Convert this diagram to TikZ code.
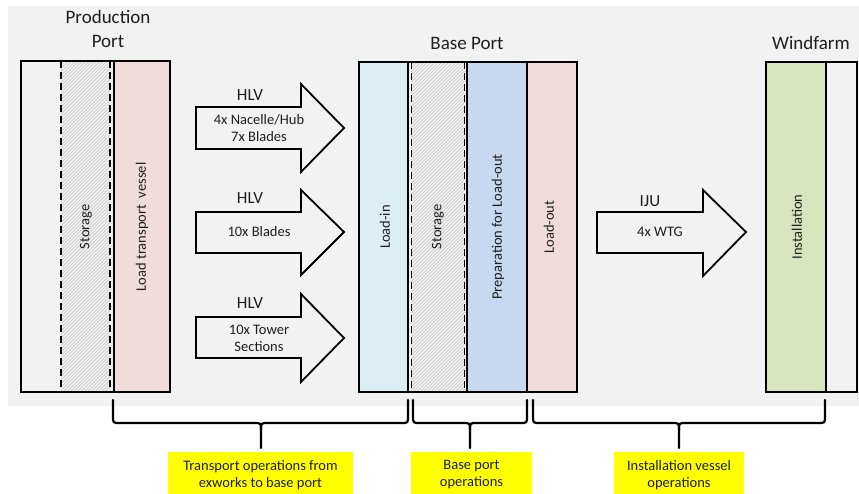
\documentclass[tikz,border=0pt]{standalone}
\usepackage{fontspec}
\setmainfont{Carlito}
\definecolor{bg}{HTML}{F2F2F2}
\definecolor{pinkc}{HTML}{F2DCDB}
\definecolor{lblue}{HTML}{DAEEF3}
\definecolor{mblue}{HTML}{C6D9F1}
\definecolor{greenc}{HTML}{D7E4BD}
\definecolor{yel}{HTML}{FFFF00}
\definecolor{txt}{HTML}{1E1E1E}
\definecolor{hatchc}{HTML}{BFBFBF}
\begin{document}
\begin{tikzpicture}[x=1pt,y=-1pt,
  box/.style={draw=black, line width=1.8pt},
  dashln/.style={draw=black, line width=1.8pt, dash pattern=on 7pt off 4pt},
  arr/.style={draw=black, line width=1.8pt, line join=miter},
  brace/.style={draw=black, line width=2.2pt, line cap=round},
  head/.style={text=txt, font=\fontsize{19}{22}\selectfont, inner sep=0pt},
  vessel/.style={text=txt, font=\fontsize{17}{20}\selectfont, inner sep=0pt},
  cargo/.style={text=txt, font=\fontsize{14.5}{17}\selectfont, align=center, inner sep=0pt},
  vlab/.style={text=txt, font=\fontsize{14.5}{17}\selectfont, rotate=90, inner sep=0pt},
  ybox/.style={fill=yel, text=txt, font=\fontsize{14.5}{17}\selectfont, align=center, inner sep=0pt}
]
\useasboundingbox (0,0) rectangle (859,494);
\fill[bg] (8,6) rectangle (859,406);

% ---------- Production port ----------
\fill[pinkc] (114,61) rectangle (170,392);
\begin{scope}
  \clip (61,61) rectangle (110,392);
  \foreach \x in {-280,-276.5,...,112} \draw[hatchc, line width=0.6pt] (\x,392) -- (\x+331,61);
\end{scope}
\draw[box] (21,61) rectangle (170,392);
\draw[box] (114,61) -- (114,392);
\draw[dashln] (61,61) -- (61,392);
\draw[dashln] (110,61) -- (110,392);
\node[head] (pp1) at (108,17) {Production};
\node[head] (pp2) at (108,41) {Port};
\node[vlab] (st1) at (86,227) {Storage};
\node[vlab] (ltv) at (142,227) {Load transport\ \ vessel};

% ---------- Base port ----------
\fill[lblue] (359,62) rectangle (408,392);
\fill[mblue] (467,62) rectangle (527,392);
\fill[pinkc] (527,62) rectangle (577,392);
\begin{scope}
  \clip (411,62) rectangle (465,392);
  \foreach \x in {70,73.5,...,470} \draw[hatchc, line width=0.6pt] (\x,392) -- (\x+330,62);
\end{scope}
\draw[box] (359,62) rectangle (577,392);
\draw[box] (408,62) -- (408,392);
\draw[box] (467,62) -- (467,392);
\draw[box] (527,62) -- (527,392);
\draw[dashln] (411.5,62) -- (411.5,392);
\draw[dashln] (464.5,62) -- (464.5,392);
\node[head] (bp) at (467,43) {Base Port};
\node[vlab] (li) at (385,227) {Load-in};
\node[vlab] (st2) at (438,227) {Storage};
\node[vlab] (prep) at (498,227) {Preparation for Load-out};
\node[vlab] (lo) at (549,227) {Load-out};

% ---------- Windfarm ----------
\fill[greenc] (766,62) rectangle (826,392);
\draw[box] (766,62) rectangle (857,392);
\draw[box] (826,62) -- (826,392);
\node[head] (wf) at (811,43) {Windfarm};
\node[vlab] (inst) at (797,227) {Installation};

% ---------- Arrows ----------
\draw[arr] (196,107) -- (301,107) -- (301,84) -- (344,128) -- (301,172) -- (301,149) -- (196,149) -- cycle;
\draw[arr] (196,212) -- (301,212) -- (301,190) -- (344,232) -- (301,275) -- (301,253) -- (196,253) -- cycle;
\draw[arr] (196,317) -- (301,317) -- (301,294) -- (344,338) -- (301,382) -- (301,358) -- (196,358) -- cycle;
\draw[arr] (597,212) -- (703,212) -- (703,190) -- (746,232) -- (703,276) -- (703,253) -- (597,253) -- cycle;

\node[vessel] (h1) at (250,95) {HLV};
\node[vessel] (h2) at (250,198) {HLV};
\node[vessel] (h3) at (250,303) {HLV};
\node[vessel] (iju) at (650,201) {IJU};
\node[cargo] (c1) at (259,128.5) {4x Nacelle/Hub\\7x Blades};
\node[cargo] (c2) at (259,232) {10x Blades};
\node[cargo] (c3) at (259,338) {10x Tower\\Sections};
\node[cargo] (c4) at (660,232) {4x WTG};

% ---------- Braces ----------
\newcommand\mybrace[3]{%
  \draw[brace] (#1,400) -- (#1,416) .. controls (#1,423) .. (#1+7,423) -- (#3-7,423)
    .. controls (#3,423) .. (#3,430) -- (#3,448);
  \draw[brace] (#3,430) .. controls (#3,423) .. (#3+7,423) -- (#2-7,423)
    .. controls (#2,423) .. (#2,416) -- (#2,400);}
\mybrace{113}{408}{261}
\mybrace{413}{527}{470}
\mybrace{533}{825}{679}

% ---------- Yellow labels ----------
\node[ybox, minimum width=185, minimum height=46] (y1) at (260.5,475) {Transport operations from\\exworks to base port};
\node[ybox, minimum width=121, minimum height=46] (y2) at (471.5,475) {Base port\\operations};
\node[ybox, minimum width=130, minimum height=46] (y3) at (679,475) {Installation vessel\\operations};
\end{tikzpicture}
\end{document}
